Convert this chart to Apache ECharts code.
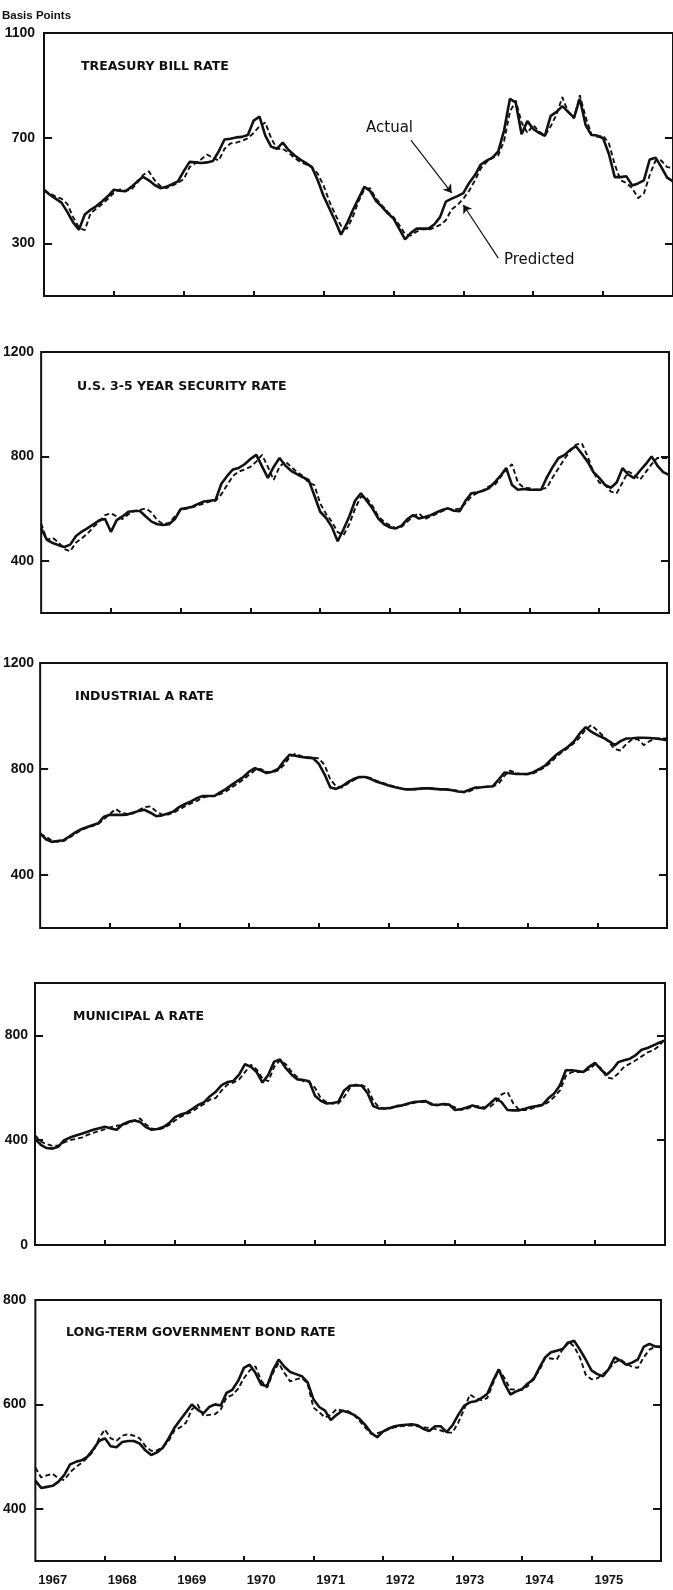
<!DOCTYPE html>
<html><head><meta charset="utf-8">
<script src="https://cdn.jsdelivr.net/npm/echarts@6/dist/echarts.min.js"></script>
<style>html,body{margin:0;padding:0;background:#fff}#c{width:673px;height:1590px}</style>
</head><body><div id="c"></div>
<script>
// ---------- categories ----------
const yearLabels = ['1967','1968','1969','1970','1971','1972','1973','1974','1975'];
const months = [];
yearLabels.forEach(y => { for (let m = 1; m <= 12; m++) months.push(y + '-' + String(m).padStart(2, '0')); });
months.push('1976-01');

// ---------- series values (basis points, monthly) ----------
const tbillActual = [
 504,485,470,455,420,380,352,410,428,442,460,480,
 504,500,498,515,535,553,540,522,510,515,525,536,
 575,610,608,606,608,613,650,695,698,703,705,712,
 767,782,710,668,660,683,655,635,619,605,590,540,
 480,433,385,333,375,425,470,515,500,462,440,415,
 395,355,315,340,356,356,356,372,400,459,470,480,
 491,530,560,600,615,626,650,730,850,835,715,765,
 735,720,709,785,800,822,800,778,850,750,712,710,
 700,640,552,552,555,520,528,540,619,626,590,550,536];
const tbillPredicted = [
 500,490,478,470,450,400,360,350,415,432,450,470,
 492,505,500,505,530,560,574,540,518,510,520,530,
 545,590,605,620,638,625,615,660,680,683,690,700,
 720,745,760,700,660,660,645,625,610,600,590,565,
 520,460,410,367,355,400,460,505,510,470,445,420,
 400,370,335,330,345,355,352,360,370,388,430,446,
 470,500,540,585,610,625,635,690,800,843,760,720,
 750,725,710,745,790,856,800,775,863,780,715,705,
 710,680,600,540,530,510,472,490,560,615,615,590,587];

const secActual = [
 524,480,468,460,453,462,495,512,525,540,555,560,
 511,556,570,588,591,591,570,550,540,537,540,560,
 598,602,607,618,627,630,633,695,725,750,756,770,
 790,806,762,718,760,794,765,745,732,720,710,650,
 588,565,530,475,520,570,630,659,630,600,562,540,
 528,524,535,560,575,562,568,575,585,595,601,592,
 590,630,659,662,668,678,700,725,755,690,672,675,
 672,672,672,720,760,794,805,825,839,810,780,740,
 718,691,680,700,755,730,717,745,770,800,765,740,729];
const secPredicted = [
 543,480,488,470,445,436,470,486,505,530,550,575,
 582,570,560,578,590,595,601,585,555,540,545,570,
 595,600,605,612,620,627,630,655,690,725,742,750,
 760,780,806,760,710,760,781,760,740,725,700,690,
 620,580,550,510,498,540,600,646,640,610,570,550,
 535,525,530,550,570,582,560,570,580,590,600,596,
 600,620,646,660,670,685,690,720,750,770,700,680,
 678,672,674,680,720,755,790,820,845,851,800,740,
 700,691,665,659,700,742,730,710,740,770,794,794,794];

const indActual = [
 557,535,525,528,531,545,560,572,580,588,595,620,
 627,627,627,628,635,642,646,635,622,625,632,640,
 657,668,678,690,698,698,698,712,724,740,755,770,
 790,803,795,785,790,800,830,854,850,845,843,841,
 820,780,730,725,735,750,762,770,770,762,752,745,
 738,732,727,723,723,725,727,727,725,723,723,720,
 715,713,722,730,731,733,735,760,787,784,781,781,
 781,788,800,813,835,855,870,885,905,935,958,940,
 928,918,905,890,905,915,916,918,918,917,915,912,909];
const indPredicted = [
 555,545,530,525,528,540,555,568,578,585,592,610,
 630,649,635,630,632,645,656,659,640,628,628,635,
 648,660,670,680,692,698,698,705,715,730,745,760,
 778,795,800,790,787,795,815,845,858,848,845,843,
 840,815,760,735,730,745,758,768,771,765,755,748,
 740,734,728,725,722,724,727,728,726,723,722,721,
 718,712,716,726,731,733,734,745,775,794,785,780,
 780,784,795,808,825,848,865,880,898,920,950,966,
 945,925,900,875,870,895,912,912,890,905,915,915,915];

const muniActual = [
 406,382,370,368,375,400,410,418,425,432,440,446,
 451,445,440,460,470,475,470,450,440,443,450,465,
 488,498,505,520,535,545,568,585,610,622,626,650,
 690,680,660,620,650,700,708,675,650,632,630,625,
 570,550,540,542,546,590,608,610,608,580,530,521,
 521,524,530,533,540,546,548,549,536,534,538,536,
 515,518,525,533,525,521,540,560,545,515,514,514,
 520,527,530,535,560,578,610,667,667,664,660,680,
 695,670,650,670,698,705,711,725,745,752,762,772,781];
const muniPredicted = [
 419,395,385,378,380,392,400,405,410,420,428,435,
 442,450,455,458,465,475,483,460,445,440,446,458,
 475,490,500,510,525,538,555,561,590,612,620,632,
 660,688,670,635,625,680,705,690,660,640,625,622,
 600,560,545,540,540,565,600,612,610,600,550,525,
 520,522,528,532,538,543,546,546,540,535,535,535,
 525,516,520,528,530,525,528,545,575,584,540,516,
 515,520,528,533,545,565,590,645,660,660,662,670,
 690,675,640,635,655,680,692,705,720,735,743,760,787];

const bondActual = [
 454,440,442,444,452,465,485,490,493,500,514,530,
 535,520,518,528,530,530,525,512,503,508,517,535,
 555,570,585,600,590,583,595,600,598,622,628,645,
 670,676,660,638,635,665,686,672,662,658,654,642,
 610,595,588,570,580,588,585,580,572,560,545,537,
 548,554,558,560,561,562,560,553,549,558,558,547,
 560,580,597,604,606,612,620,645,667,640,619,625,
 629,640,648,670,690,700,703,706,718,722,705,686,
 665,658,654,668,690,684,676,680,686,710,716,711,710];
const bondPredicted = [
 479,460,464,467,458,455,470,480,488,498,510,535,
 552,535,530,540,543,540,535,520,511,512,518,530,
 550,556,565,590,600,578,580,581,590,613,618,630,
 650,665,673,645,632,660,679,660,644,648,651,640,
 594,585,575,580,591,588,587,580,568,555,543,545,
 548,552,556,558,559,560,558,556,555,553,550,546,
 546,565,590,619,612,608,612,640,667,650,629,628,
 628,635,651,665,689,688,686,705,721,711,690,657,
 648,650,658,668,680,686,678,672,670,690,705,711,711];

// ---------- axis ticks ----------
const tbillTicks = [300, 700, 1100];
const secTicks = [400, 800, 1200];
const indTicks = [400, 800, 1200];
const muniTicks = [0, 400, 800];
const bondTicks = [400, 600, 800];

const panels = [
  {title: 'TREASURY BILL RATE', actual: tbillActual, predicted: tbillPredicted, min: 100, max: 1100, ticks: tbillTicks},
  {title: 'U.S. 3-5 YEAR SECURITY RATE', actual: secActual, predicted: secPredicted, min: 200, max: 1200, ticks: secTicks},
  {title: 'INDUSTRIAL A RATE', actual: indActual, predicted: indPredicted, min: 200, max: 1200, ticks: indTicks},
  {title: 'MUNICIPAL A RATE', actual: muniActual, predicted: muniPredicted, min: 0, max: 1000, ticks: muniTicks},
  {title: 'LONG-TERM GOVERNMENT BOND RATE', actual: bondActual, predicted: bondPredicted, min: 300, max: 800, ticks: bondTicks}
];

// ---------- layout ----------
const layout = [
  {left: 44, top: 33, width: 629, height: 263, tx: 81, ty: 60, lm: 9},
  {left: 40, top: 352, width: 629, height: 261, tx: 77, ty: 380, lm: 7},
  {left: 37, top: 663, width: 630, height: 265, tx: 75, ty: 690, lm: 6},
  {left: 35, top: 983, width: 630, height: 262, tx: 73, ty: 1010, lm: 7},
  {left: 31, top: 1300, width: 630, height: 261, tx: 66, ty: 1326, lm: 9}
];

const FONT = '"DejaVu Sans", "Noto Sans", sans-serif';
const NUMFONT = '"Liberation Sans", Arial, sans-serif';
const grid = [], xAxis = [], yAxis = [], series = [], title = [];

panels.forEach((p, i) => {
  const L = layout[i];
  grid.push({left: L.left, top: L.top, width: L.width, height: L.height, show: true,
             borderColor: '#111', borderWidth: 2, backgroundColor: 'transparent', containLabel: false});
  title.push({text: p.title, left: L.tx, top: L.ty, padding: 0,
              textStyle: {fontFamily: FONT, fontSize: 12.5, fontWeight: 'bold', color: '#111'}});
  xAxis.push({
    gridIndex: i, type: 'category', data: months, boundaryGap: false,
    axisLine: {show: false, onZero: false},
    axisTick: {show: true, inside: true, length: 5, lineStyle: {color: '#111', width: 2},
               interval: (idx) => idx % 12 === 0 && idx > 0 && idx < 108},
    axisLabel: {show: i === 4, interval: (idx) => idx % 12 === 3, formatter: (v) => v.slice(0, 4),
                margin: 13, fontFamily: NUMFONT, fontSize: 13, fontWeight: 'bold', color: '#111'},
    splitLine: {show: false}
  });
  const tickVals = p.ticks.filter(v => v > p.min && v < p.max);
  yAxis.push({
    gridIndex: i, type: 'value', min: p.min, max: p.max, position: 'left',
    axisLine: {show: false, onZero: false}, splitLine: {show: false},
    axisTick: {show: true, inside: true, length: 8, customValues: tickVals, lineStyle: {color: '#111', width: 2}},
    axisLabel: {customValues: p.ticks, formatter: (v) => String(v), margin: L.lm,
                fontFamily: NUMFONT, fontSize: 14, fontWeight: 'bold', color: '#111'}
  });
  yAxis.push({
    gridIndex: i, type: 'value', min: p.min, max: p.max, position: 'right',
    axisLine: {show: false, onZero: false}, splitLine: {show: false},
    axisTick: {show: true, inside: true, length: 8, customValues: tickVals, lineStyle: {color: '#111', width: 2}},
    axisLabel: {show: false}
  });
  series.push({
    type: 'line', xAxisIndex: i, yAxisIndex: 2 * i, data: p.predicted, showSymbol: false, z: 2,
    lineStyle: {color: '#111', width: 1.9, type: [5, 3]}, silent: true
  });
  const act = {
    type: 'line', xAxisIndex: i, yAxisIndex: 2 * i, data: p.actual, showSymbol: false, z: 3,
    lineStyle: {color: '#111', width: 2.6}, silent: true
  };
  if (i === 0) {
    act.markLine = {
      silent: true, symbol: ['none', 'arrow'], symbolSize: 8, animation: false,
      label: {show: false}, lineStyle: {color: '#111', width: 1.2, type: 'solid'},
      data: [
        [{coord: [63.4, 693]}, {coord: [70.1, 492]}],
        [{coord: [77.8, 244]}, {coord: [71.5, 446]}]
      ]
    };
  }
  series.push(act);
});

title.push({text: 'Basis Points', left: 2, top: 10, padding: 0,
            textStyle: {fontFamily: NUMFONT, fontSize: 11.5, fontWeight: 'bold', color: '#111'}});

const chart = echarts.init(document.getElementById('c'), null, {renderer: 'canvas'});
chart.setOption({
  backgroundColor: '#fff',
  animation: false,
  title, grid, xAxis, yAxis, series,
  graphic: [
    {type: 'text', left: 366, top: 121, style: {text: 'Actual', font: '15px "DejaVu Sans", sans-serif', fill: '#111'}},
    {type: 'text', left: 504, top: 253, style: {text: 'Predicted', font: '15px "DejaVu Sans", sans-serif', fill: '#111'}}
  ]
});
</script>
</body></html>
